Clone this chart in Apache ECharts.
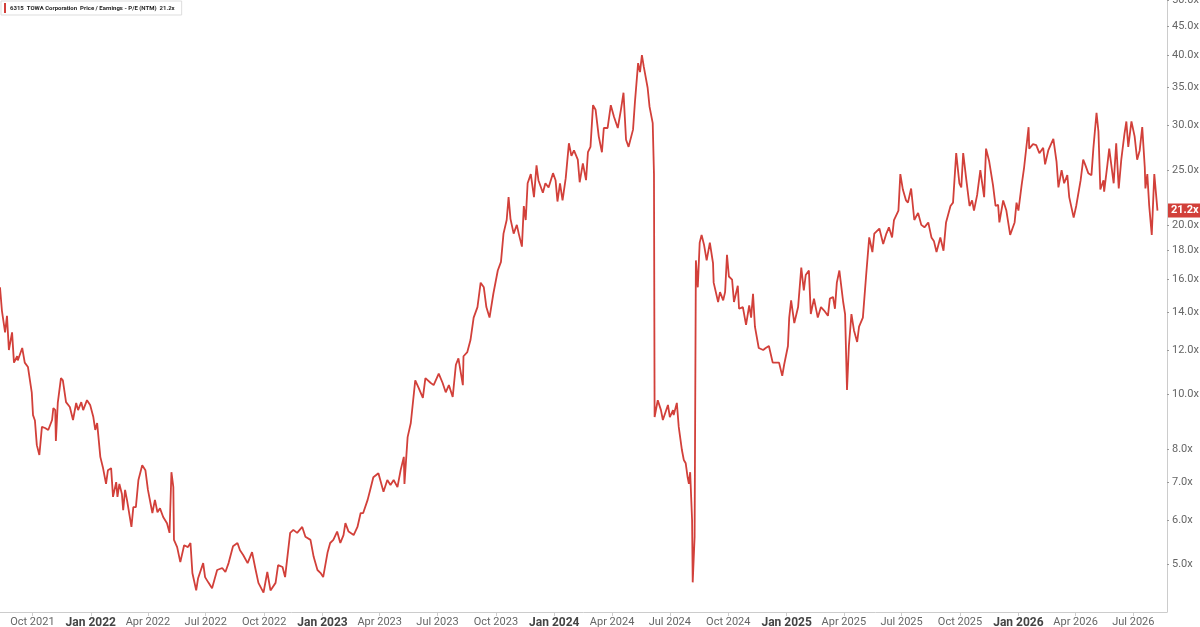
<!DOCTYPE html>
<html><head><meta charset="utf-8">
<script src="https://cdn.jsdelivr.net/npm/echarts@6/dist/echarts.min.js"></script>
<style>html,body{margin:0;padding:0;background:#fff}#c{width:1200px;height:627px}</style>
</head><body><div id="c"></div>
<script>
const ticker = '6315';
const company = 'TOWA Corporation';
const metric = 'Price / Earnings - P/E (NTM)';
const yTicks = [5, 6, 7, 8, 10, 12, 14, 16, 18, 20, 25, 30, 35, 40, 45, 50];
const xTicks = ['2021-10-01','2022-01-01','2022-04-01','2022-07-01','2022-10-01','2023-01-01','2023-04-01','2023-07-01','2023-10-01','2024-01-01','2024-04-01','2024-07-01','2024-10-01','2025-01-01','2025-04-01','2025-07-01','2025-10-01','2026-01-01','2026-04-01','2026-07-01'];
const monthNames = ['Jan','Feb','Mar','Apr','May','Jun','Jul','Aug','Sep','Oct','Nov','Dec'];

const dates2021 = ['2021-08-11','2021-08-14','2021-08-19','2021-08-22','2021-08-24','2021-08-25','2021-08-30','2021-09-02','2021-09-07','2021-09-08','2021-09-15','2021-09-19','2021-09-24','2021-09-30','2021-10-02','2021-10-05','2021-10-08','2021-10-12','2021-10-16','2021-10-21','2021-10-26','2021-11-01','2021-11-03','2021-11-06','2021-11-07','2021-11-10','2021-11-15','2021-11-18','2021-11-23','2021-11-29','2021-12-04','2021-12-09','2021-12-12','2021-12-17','2021-12-20','2021-12-26','2021-12-31'];
const values2021 = [15.5,14.1,12.9,13.8,13.8,12.0,12.9,11.4,11.7,11.5,12.1,11.4,11.2,10.1,9.2,9.0,8.14,7.82,8.77,8.73,8.66,9.02,9.47,9.39,8.28,9.67,10.7,10.6,9.7,9.51,9.02,9.67,9.39,9.7,9.39,9.78,9.59];

const dates2022 = ['2022-01-05','2022-01-08','2022-01-11','2022-01-16','2022-01-20','2022-01-25','2022-01-28','2022-02-02','2022-02-05','2022-02-10','2022-02-12','2022-02-15','2022-02-19','2022-02-21','2022-02-24','2022-02-27','2022-03-06','2022-03-09','2022-03-13','2022-03-17','2022-03-23','2022-03-28','2022-04-01','2022-04-08','2022-04-12','2022-04-16','2022-04-20','2022-04-25','2022-05-01','2022-05-05','2022-05-08','2022-05-11','2022-05-12','2022-05-17','2022-05-22','2022-05-28','2022-06-03','2022-06-07','2022-06-10','2022-06-16','2022-06-19','2022-06-27','2022-06-30','2022-07-05','2022-07-11','2022-07-19','2022-07-27','2022-08-01','2022-08-06','2022-08-13','2022-08-20','2022-08-24','2022-08-29','2022-09-05','2022-09-12','2022-09-17','2022-09-22','2022-09-30','2022-10-06','2022-10-11','2022-10-19','2022-10-23','2022-10-30','2022-11-03','2022-11-11','2022-11-16','2022-11-22','2022-11-30','2022-12-05','2022-12-13','2022-12-18','2022-12-24','2022-12-29'];
const values2022 = [9.13,8.66,8.91,7.76,7.44,6.95,7.35,7.41,6.59,7.0,6.59,6.95,6.67,6.24,6.78,6.51,5.83,6.32,6.32,7.06,7.50,7.35,6.78,6.17,6.51,6.19,6.29,6.07,5.92,5.69,7.29,6.86,5.53,5.37,5.05,5.41,5.37,5.46,4.83,4.50,4.73,5.03,4.75,4.65,4.54,4.89,4.93,4.85,5.03,5.39,5.46,5.30,5.20,5.03,5.26,4.93,4.64,4.46,4.85,4.50,4.64,4.99,4.95,4.75,5.69,5.76,5.69,5.83,5.60,5.53,5.16,4.89,4.83];

const dates2023 = ['2023-01-02','2023-01-09','2023-01-13','2023-01-18','2023-01-24','2023-01-29','2023-02-03','2023-02-06','2023-02-11','2023-02-19','2023-02-25','2023-03-02','2023-03-06','2023-03-13','2023-03-17','2023-03-22','2023-03-30','2023-04-07','2023-04-13','2023-04-18','2023-04-23','2023-04-29','2023-05-04','2023-05-09','2023-05-10','2023-05-15','2023-05-20','2023-05-27','2023-06-01','2023-06-08','2023-06-12','2023-06-20','2023-06-25','2023-07-03','2023-07-09','2023-07-14','2023-07-19','2023-07-25','2023-07-30','2023-08-03','2023-08-10','2023-08-11','2023-08-17','2023-08-22','2023-08-27','2023-09-02','2023-09-07','2023-09-12','2023-09-16','2023-09-21','2023-09-27','2023-10-04','2023-10-09','2023-10-13','2023-10-18','2023-10-21','2023-10-24','2023-10-29','2023-11-03','2023-11-06','2023-11-11','2023-11-14','2023-11-17','2023-11-20','2023-11-25','2023-11-30','2023-12-04','2023-12-07','2023-12-14','2023-12-18','2023-12-23','2023-12-30'];
const values2023 = [4.75,5.26,5.46,5.53,5.72,5.46,5.64,5.92,5.72,5.64,5.83,6.17,6.17,6.51,6.78,7.14,7.26,6.73,7.06,6.92,7.06,6.86,7.35,7.76,6.95,8.41,8.91,10.6,10.3,9.87,10.7,10.5,10.4,10.9,10.5,10.1,10.4,9.91,11.3,11.6,10.4,11.7,11.9,12.5,13.7,14.3,15.8,15.5,14.3,13.7,15.1,16.6,17.2,19.3,20.4,22.4,20.5,19.3,20.0,19.3,18.3,21.6,20.4,23.7,24.6,22.4,25.5,24.0,22.8,23.7,23.3,24.7];

const dates2024 = ['2024-01-03','2024-01-06','2024-01-10','2024-01-14','2024-01-19','2024-01-24','2024-01-28','2024-02-01','2024-02-07','2024-02-10','2024-02-15','2024-02-20','2024-02-23','2024-02-27','2024-03-02','2024-03-06','2024-03-11','2024-03-16','2024-03-19','2024-03-25','2024-03-30','2024-04-04','2024-04-10','2024-04-15','2024-04-19','2024-04-23','2024-04-27','2024-05-04','2024-05-07','2024-05-12','2024-05-15','2024-05-18','2024-05-21','2024-05-27','2024-05-30','2024-06-04','2024-06-06','2024-06-07','2024-06-12','2024-06-17','2024-06-20','2024-06-23','2024-06-28','2024-07-01','2024-07-06','2024-07-07','2024-07-12','2024-07-15','2024-07-20','2024-07-23','2024-07-26','2024-07-29','2024-07-31','2024-08-02','2024-08-05','2024-08-06','2024-08-09','2024-08-11','2024-08-14','2024-08-17','2024-08-20','2024-08-24','2024-08-28','2024-09-02','2024-09-07','2024-09-08','2024-09-15','2024-09-18','2024-09-23','2024-09-26','2024-09-29','2024-10-02','2024-10-07','2024-10-10','2024-10-16','2024-10-18','2024-10-24','2024-10-29','2024-11-03','2024-11-06','2024-11-09','2024-11-12','2024-11-18','2024-11-25','2024-11-29','2024-12-04','2024-12-10','2024-12-15','2024-12-20','2024-12-25','2024-12-28'];
const values2024 = [24.0,22.0,23.7,22.1,24.2,27.9,26.5,27.1,26.1,23.8,25.7,24.0,26.9,27.5,32.6,32.0,28.7,26.9,29.7,29.7,32.6,31.1,29.7,32.0,34.3,28.3,27.5,29.5,33.0,38.7,37.3,40.0,38.1,35.0,32.4,30.3,24.6,9.13,9.78,9.39,9.02,8.95,9.59,9.13,9.39,9.20,9.67,8.77,7.98,7.66,7.56,7.14,6.95,7.29,6.0,4.65,5.60,17.3,15.5,18.6,19.2,18.4,17.3,18.6,17.1,15.8,14.6,15.2,14.7,15.2,17.7,16.2,16.0,14.6,15.6,14.2,14.3,13.3,14.4,13.7,15.1,13.2,12.1,12.0,12.1,12.2,11.4,11.4,11.4,10.8,11.3];

const dates2025 = ['2025-01-03','2025-01-05','2025-01-08','2025-01-13','2025-01-19','2025-01-24','2025-01-28','2025-01-31','2025-02-05','2025-02-08','2025-02-13','2025-02-19','2025-02-24','2025-03-01','2025-03-07','2025-03-10','2025-03-15','2025-03-18','2025-03-21','2025-03-25','2025-03-31','2025-04-03','2025-04-06','2025-04-09','2025-04-13','2025-04-17','2025-04-22','2025-04-25','2025-05-01','2025-05-06','2025-05-11','2025-05-16','2025-05-19','2025-05-27','2025-06-02','2025-06-07','2025-06-11','2025-06-16','2025-06-19','2025-06-26','2025-06-29','2025-07-03','2025-07-08','2025-07-11','2025-07-16','2025-07-21','2025-07-27','2025-08-01','2025-08-06','2025-08-12','2025-08-17','2025-08-21','2025-08-25','2025-08-31','2025-09-05','2025-09-09','2025-09-16','2025-09-20','2025-09-25','2025-09-30','2025-10-03','2025-10-06','2025-10-11','2025-10-16','2025-10-20','2025-10-23','2025-10-28','2025-11-02','2025-11-08','2025-11-11','2025-11-16','2025-11-22','2025-11-26','2025-11-30','2025-12-02','2025-12-08','2025-12-13','2025-12-19','2025-12-26','2025-12-29'];
const values2025 = [12.2,13.7,14.7,13.4,14.3,16.8,15.3,16.3,16.6,13.9,14.8,13.7,14.3,14.1,13.8,14.8,14.9,14.2,15.8,16.6,14.6,13.9,10.2,12.2,13.9,13.0,12.4,13.2,13.7,16.2,19.0,17.9,19.3,19.7,18.5,19.3,19.8,19.0,20.4,21.2,24.6,23.1,22.1,21.9,23.2,20.4,21.0,20.0,19.8,20.2,19.0,18.7,17.9,19.0,18.0,20.2,21.6,21.9,26.8,23.7,23.3,26.8,24.0,21.6,22.1,21.2,22.6,25.0,22.4,27.3,25.9,23.5,21.6,21.7,20.2,22.1,21.2,19.2,20.2,21.9];

const dates2026 = ['2026-01-01','2026-01-06','2026-01-10','2026-01-17','2026-01-18','2026-01-24','2026-01-29','2026-02-03','2026-02-09','2026-02-12','2026-02-17','2026-02-25','2026-03-02','2026-03-05','2026-03-10','2026-03-14','2026-03-19','2026-03-22','2026-03-29','2026-04-02','2026-04-05','2026-04-09','2026-04-13','2026-04-16','2026-04-21','2026-04-26','2026-04-29','2026-05-04','2026-05-07','2026-05-10','2026-05-15','2026-05-16','2026-05-21','2026-05-24','2026-05-31','2026-06-04','2026-06-08','2026-06-12','2026-06-17','2026-06-20','2026-06-23','2026-06-28','2026-07-03','2026-07-07','2026-07-11','2026-07-15','2026-07-19','2026-07-20','2026-07-23','2026-07-26','2026-07-30','2026-08-03','2026-08-08'];
const values2026 = [21.2,23.5,25.3,29.8,27.3,27.8,27.7,26.8,27.4,25.6,27.1,28.4,25.9,23.3,25.0,23.7,24.5,22.4,20.6,21.6,21.5,24.0,26.1,25.6,24.7,24.5,27.3,31.6,29.3,23.1,24.0,22.9,25.5,27.3,23.7,27.9,23.2,26.1,29.0,30.5,27.5,30.5,28.7,26.1,27.1,29.8,25.3,23.2,24.6,21.6,19.2,24.6,21.2];

const dates = [].concat(dates2021, dates2022, dates2023, dates2024, dates2025, dates2026);
const values = [].concat(values2021, values2022, values2023, values2024, values2025, values2026);
const lastValue = values[values.length - 1];
const lineColor = '#d2403a';

function toTime(s) { const p = s.split('-'); return Date.UTC(+p[0], +p[1] - 1, +p[2]); }

const chart = echarts.init(document.getElementById('c'), null, {renderer: 'canvas'});
chart.setOption({
  animation: false,
  textStyle: {fontFamily: 'Roboto, sans-serif'},
  grid: {left: 0, right: 33, top: 0, bottom: 15, containLabel: false, outerBoundsMode: 'none'},
  legend: {
    show: true, left: 1, top: 1, padding: [2, 7, 2, 3],
    backgroundColor: '#fff', borderColor: '#dddddd', borderWidth: 1, borderRadius: 0,
    icon: 'rect', itemWidth: 2, itemHeight: 10, itemGap: 4,
    formatter: () => ticker + '  ' + company + '  ' + metric + '  ' + lastValue.toFixed(1) + 'x',
    textStyle: {fontSize: 6, fontWeight: 'bold', color: '#222', fontFamily: 'Roboto, sans-serif', padding: [0, 0, 0, -1]}
  },
  xAxis: {
    type: 'value', min: toTime('2021-08-11'), max: toTime('2026-08-23'),
    axisLine: {show: true, onZero: false, lineStyle: {color: '#cccccc', width: 1}},
    axisTick: {show: true, length: 4, customValues: xTicks.map(toTime), lineStyle: {color: '#cccccc'}},
    splitLine: {show: false},
    axisLabel: {
      customValues: xTicks.map(toTime), margin: 5, hideOverlap: false,
      formatter: function (v) {
        const d = new Date(v);
        const m = d.getUTCMonth();
        const s = monthNames[m] + ' ' + d.getUTCFullYear();
        return m === 0 ? '{b|' + s + '}' : '{n|' + s + '}';
      },
      rich: {
        n: {fontSize: 11, color: '#666', fontFamily: 'Roboto, sans-serif'},
        b: {fontSize: 12, color: '#444', fontWeight: 'bold', fontFamily: 'Roboto, sans-serif'}
      }
    }
  },
  yAxis: {
    type: 'log', position: 'right', min: 4.12, max: 50.07,
    axisLine: {show: true, lineStyle: {color: '#cccccc', width: 1}},
    axisTick: {show: true, length: 2, customValues: yTicks, lineStyle: {color: '#999'}},
    splitLine: {show: false},
    axisLabel: {customValues: yTicks, margin: 5, color: '#666', fontSize: 11,
      formatter: v => Number(v).toFixed(1) + 'x'}
  },
  series: [{
    name: company, type: 'line', showSymbol: false, symbol: 'none',
    data: dates.map((d, i) => [toTime(d), values[i]]),
    lineStyle: {color: lineColor, width: 1.8},
    itemStyle: {color: lineColor},
    markLine: {
      silent: true, symbol: 'none', animation: false,
      lineStyle: {color: 'rgba(0,0,0,0)', width: 0},
      data: [{yAxis: lastValue}],
      label: {show: true, position: 'end', distance: 1, formatter: lastValue.toFixed(1) + 'x',
        backgroundColor: lineColor, color: '#fff', fontWeight: 'bold', fontSize: 11, padding: [2, 3, 1, 3]}
    }
  }]
});
</script></body></html>
